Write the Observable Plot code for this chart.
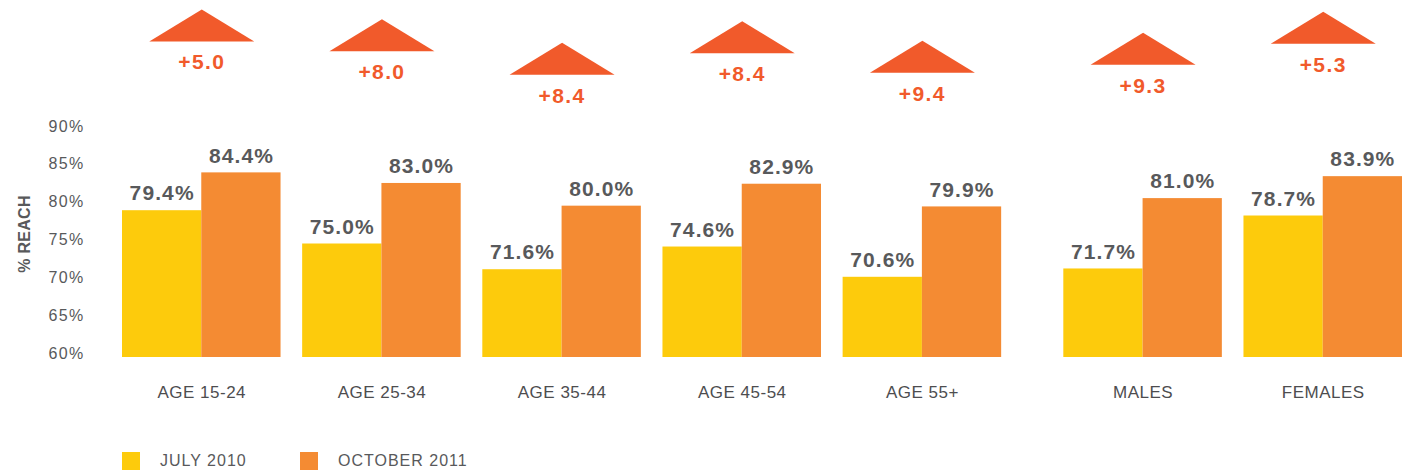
<!DOCTYPE html>
<html>
<head>
<meta charset="utf-8">
<script src="https://cdn.jsdelivr.net/npm/d3@7"></script>
<script src="https://cdn.jsdelivr.net/npm/@observablehq/plot@0.6"></script>
<style>
  html, body { margin: 0; padding: 0; background: #fff; }
  body { width: 1406px; height: 472px; overflow: hidden; font-family: "Liberation Sans", Arial, sans-serif; }
  #chart svg { display: block; }
  g[aria-description="values"] text { letter-spacing: 1.1px; }
  g[aria-description="changes"] text { letter-spacing: 1.4px; }
  g[aria-description="categories"] text { letter-spacing: 0.5px; }
  g[aria-label="y-axis tick label"] text { letter-spacing: 1.3px; }
  g[aria-description="ytitle"] text { letter-spacing: 0.3px; }
  #legend { position: relative; height: 32px; width: 1406px; }
  #legend .sw { position: absolute; top: 12px; width: 18px; height: 18px; }
  #legend .lt { position: absolute; top: 12px; height: 18px; line-height: 18px; font-size: 16px; color: #58595b; letter-spacing: 1px; white-space: nowrap; }
</style>
</head>
<body>
<div id="chart"></div>
<div id="legend"></div>
<script>
// ---- data ----
const categories = ["AGE 15-24", "AGE 25-34", "AGE 35-44", "AGE 45-54", "AGE 55+", "MALES", "FEMALES"];
const series = ["JULY 2010", "OCTOBER 2011"];
const july2010 = [79.4, 75.0, 71.6, 74.6, 70.6, 71.7, 78.7];
const october2011 = [84.4, 83.0, 80.0, 82.9, 79.9, 81.0, 83.9];
const changes = ["+5.0", "+8.0", "+8.4", "+8.4", "+9.4", "+9.3", "+5.3"];
const yTicks = [60, 65, 70, 75, 80, 85, 90];

// ---- layout (not data) ----
const colors = ["#fdcb0c", "#f48b33"];
const accent = "#f15a2b";
const textGray = "#58595b";
const badgeBasePx = [41, 50.7, 74.3, 52.7, 72.3, 64.3, 43.3]; // decorative badge heights
const W = 1406, H = 440, mTop = 130, mBottom = 83, mLeft = 122, mRight = 4;
const barW = 0.44;
const groupGap = 0.225; // extra gap before gender groups
const pos = i => i + (i >= 5 ? groupGap : 0);
const xMax = pos(categories.length - 1) + 2 * barW;
const pxPerUnit = (H - mBottom - mTop) / (yTicks[yTicks.length - 1] - yTicks[0]);
const yFromPx = p => yTicks[0] + ((H - mBottom) - p) / pxPerUnit;

const rows = categories.flatMap((c, i) => [
  {cat: c, i, s: 0, series: series[0], v: july2010[i]},
  {cat: c, i, s: 1, series: series[1], v: october2011[i]}
]);

const wideTriangle = {
  draw(ctx) {
    ctx.moveTo(-52.5, 0);
    ctx.lineTo(0, -32);
    ctx.lineTo(52.5, 0);
    ctx.closePath();
  }
};

const chart = Plot.plot({
  width: W,
  height: H,
  marginTop: mTop,
  marginBottom: mBottom,
  marginLeft: mLeft,
  marginRight: mRight,
  style: {fontFamily: "'Liberation Sans', Arial, sans-serif", background: "#fff", overflow: "visible"},
  x: {domain: [0, xMax], axis: null},
  y: {domain: [yTicks[0], yTicks[yTicks.length - 1]], axis: null},
  color: {domain: series, range: colors},
  marks: [
    Plot.axisY(yTicks, {
      tickSize: 0, tickPadding: 38, tickFormat: d => d + "%",
      fontSize: 16, fill: textGray, label: null, dy: -4
    }),
    Plot.text(["% REACH"], {
      frameAnchor: "left", textAnchor: "middle", dx: -98, dy: -10, rotate: -90,
      fontSize: 16, fontWeight: "bold", fill: textGray, ariaDescription: "ytitle"
    }),
    Plot.rect(rows, {
      x1: d => pos(d.i) + d.s * barW,
      x2: d => pos(d.i) + (d.s + 1) * barW,
      y1: () => yTicks[0],
      y2: "v",
      fill: "series"
    }),
    Plot.text(rows, {
      x: d => pos(d.i) + (d.s + 0.5) * barW,
      y: "v",
      text: d => d.v.toFixed(1) + "%",
      dy: -17, fontSize: 21, fontWeight: "bold", fill: textGray,
      ariaDescription: "values"
    }),
    Plot.text(categories, {
      x: (d, i) => pos(i) + barW,
      frameAnchor: "bottom",
      text: d => d,
      dy: 40, fontSize: 17, fill: "#4d4d4f",
      ariaDescription: "categories"
    }),
    Plot.dot(categories, {
      x: (d, i) => pos(i) + barW,
      y: (d, i) => yFromPx(badgeBasePx[i]),
      symbol: wideTriangle,
      fill: accent, stroke: "none"
    }),
    Plot.text(categories, {
      x: (d, i) => pos(i) + barW,
      y: (d, i) => yFromPx(badgeBasePx[i]),
      text: (d, i) => changes[i],
      dy: 21, fontSize: 21, fontWeight: "bold", fill: accent,
      ariaDescription: "changes"
    })
  ]
});
document.getElementById("chart").appendChild(chart);

// legend
const legend = d3.select("#legend");
const legendX = [[122, 160], [300, 338]];
series.forEach((s, k) => {
  legend.append("span").attr("class", "sw").style("left", legendX[k][0] + "px").style("background", colors[k]);
  legend.append("span").attr("class", "lt").style("left", legendX[k][1] + "px").text(s);
});
</script>
</body>
</html>
